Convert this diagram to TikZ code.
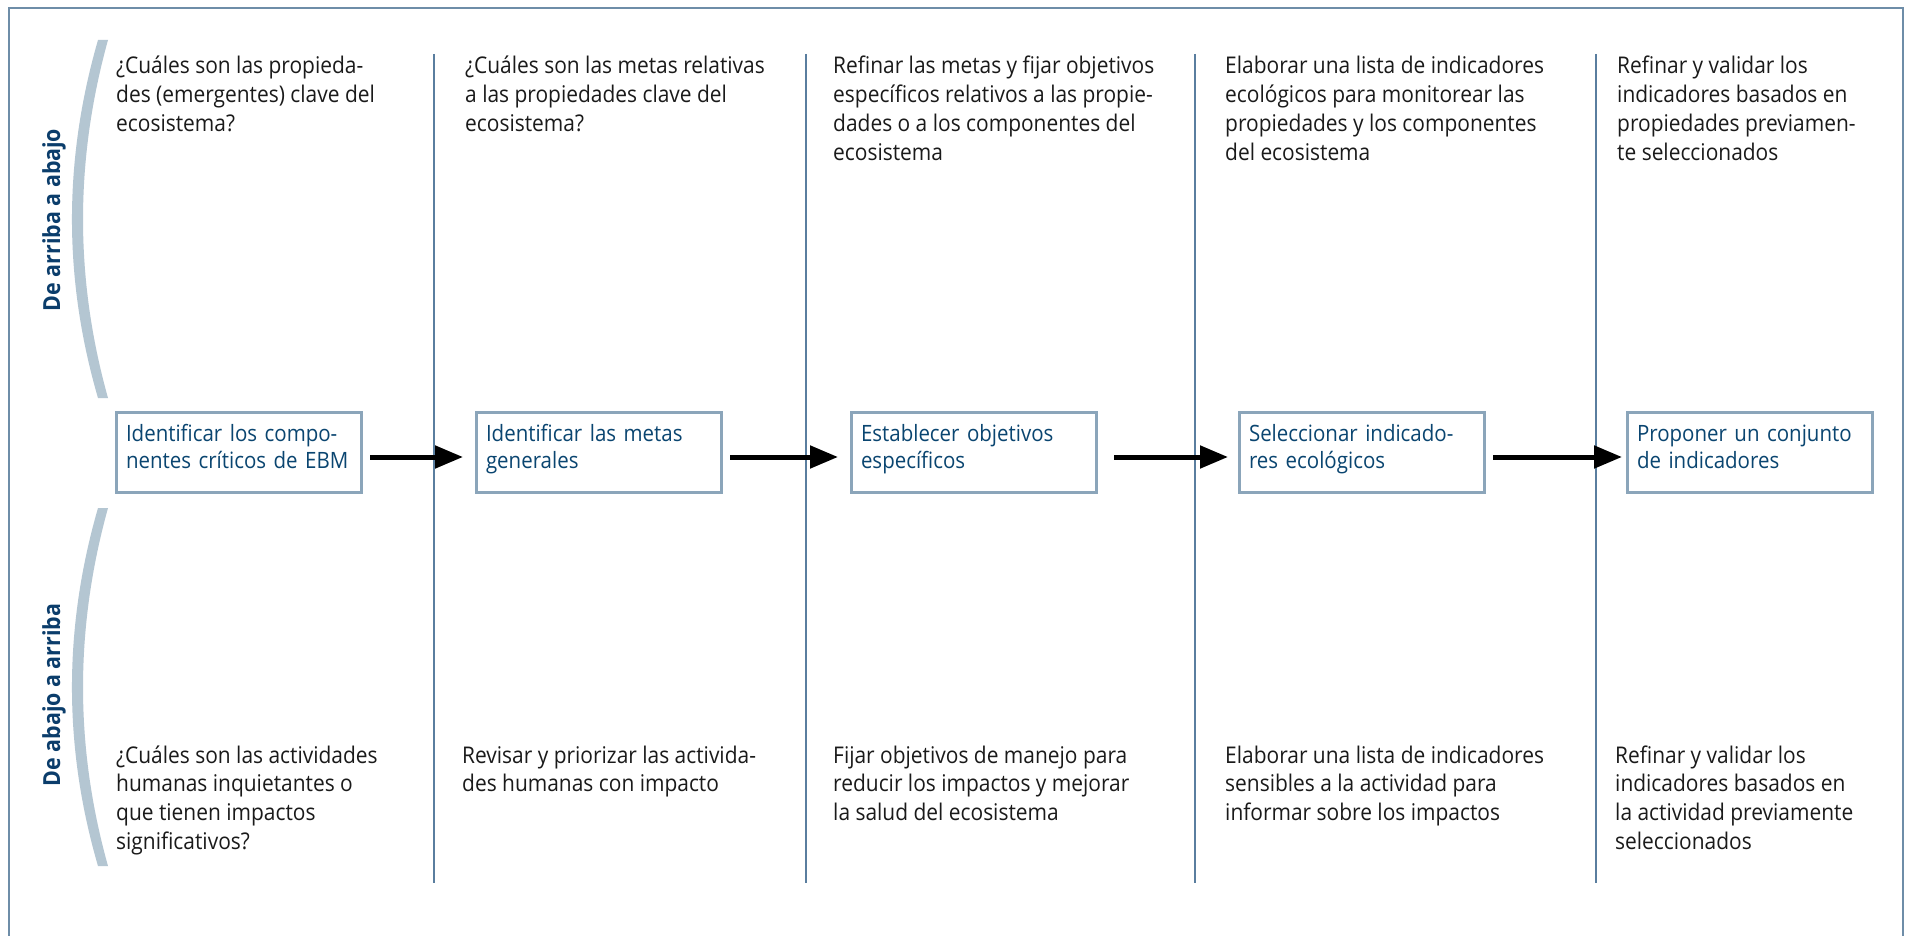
\documentclass[tikz,border=0pt]{standalone}
\usepackage{fontspec}
\setmainfont{Open Sans}[FakeStretch=0.91]
\usetikzlibrary{arrows.meta}
\definecolor{boxtext}{HTML}{0A4570}
\definecolor{labeltext}{HTML}{0B3D6B}
\definecolor{boxline}{HTML}{8BA5BA}
\definecolor{sepline}{HTML}{5A7E9F}
\definecolor{frameline}{HTML}{6E8DA8}
\definecolor{bracketc}{HTML}{B4C6D2}
\definecolor{bodytext}{HTML}{1A1A1A}
\newcommand{\ltext}[1]{\begin{tabular}[t]{@{}l@{}}#1\end{tabular}}
\newcommand{\boxstrut}{\rule[-14.3pt]{0pt}{1pt}}
\tikzset{
  bodytxt/.style={anchor=base west, inner sep=0pt, text=bodytext,
    font=\fontsize{23}{28.7}\selectfont},
  stepbox/.style={draw=boxline, line width=3pt, fill=white, anchor=north west,
    minimum width=245pt, minimum height=80pt, text width=226pt, inner xsep=9.5pt,
    inner ysep=0pt, align=left, text=boxtext, font=\fontsize{22.5}{27.5}\selectfont},
  sidelabel/.style={rotate=90, anchor=base, inner sep=0pt, text=labeltext,
    font=\bfseries\fontsize{23.5}{28}\selectfont},
  sepstyle/.style={draw=sepline, line width=2.5pt},
  bracketstyle/.style={fill=bracketc},
  flowarrow/.style={draw=black, line width=5pt, -{Triangle[length=28pt,width=22pt]}},
}
\begin{document}
\begin{tikzpicture}[x=1pt,y=-1pt]
\useasboundingbox (0,0) rectangle (1905,936);
\fill[white] (0,0) rectangle (1905,936);
% frame
\draw[frameline, line width=2pt] (9,937) -- (9,8) -- (1903,8) -- (1903,937);
% separators
\foreach \sx in {434,806,1195,1596} {
  \draw[sepstyle] (\sx,54) -- (\sx,883);
}
% brackets
\fill[bracketstyle] (98,40) .. controls (63.3,160) and (63.3,279) .. (98,398)
  -- (108,398) .. controls (74.7,279) and (74.7,160) .. (108,40) -- cycle;
\fill[bracketstyle] (98,508) .. controls (63.3,628) and (63.3,747) .. (98,866)
  -- (108,866) .. controls (74.7,747) and (74.7,628) .. (108,508) -- cycle;
% side labels
\node[sidelabel] (topdown) at (60,220) {De arriba a abajo};
\node[sidelabel] (bottomup) at (60,695) {De abajo a arriba};
% top texts
\node[bodytxt] (t1) at (116,74) {\ltext{¿Cuáles son las propieda-\\des (emergentes) clave del\\ecosistema?}};
\node[bodytxt] (t2) at (465,74) {\ltext{¿Cuáles son las metas relativas\\a las propiedades clave del\\ecosistema?}};
\node[bodytxt] (t3) at (833,74) {\ltext{Refinar las metas y fijar objetivos\\específicos relativos a las propie-\\dades o a los componentes del\\ecosistema}};
\node[bodytxt] (t4) at (1225,74) {\ltext{Elaborar una lista de indicadores\\ecológicos para monitorear las\\propiedades y los componentes\\del ecosistema}};
\node[bodytxt] (t5) at (1617,74) {\ltext{Refinar y validar los\\indicadores basados en\\propiedades previamen-\\te seleccionados}};
% boxes
\node[stepbox] (b1) at (115,411) {\ltext{Identificar los compo-\\nentes críticos de EBM\boxstrut}};
\node[stepbox] (b2) at (475,411) {\ltext{Identificar las metas\\generales\boxstrut}};
\node[stepbox] (b3) at (850,411) {\ltext{Establecer objetivos\\específicos\boxstrut}};
\node[stepbox] (b4) at (1238,411) {\ltext{Seleccionar indicado-\\res ecológicos\boxstrut}};
\node[stepbox] (b5) at (1626,411) {\ltext{Proponer un conjunto\\de indicadores\boxstrut}};
% arrows
\draw[flowarrow] ([shift={(7,4.5)}]b1.east) -- ([shift={(-12,4.5)}]b2.west);
\draw[flowarrow] ([shift={(7,4.5)}]b2.east) -- ([shift={(-12,4.5)}]b3.west);
\draw[flowarrow] ([shift={(16,4.5)}]b3.east) -- ([shift={(-10,4.5)}]b4.west);
\draw[flowarrow] ([shift={(7,4.5)}]b4.east) -- ([shift={(-4,4.5)}]b5.west);
% bottom texts
\node[bodytxt] (u1) at (116,763) {\ltext{¿Cuáles son las actividades\\humanas inquietantes o\\que tienen impactos\\significativos?}};
\node[bodytxt] (u2) at (462,763) {\ltext{Revisar y priorizar las activida-\\des humanas con impacto}};
\node[bodytxt] (u3) at (833,763) {\ltext{Fijar objetivos de manejo para\\reducir los impactos y mejorar\\la salud del ecosistema}};
\node[bodytxt] (u4) at (1225,763) {\ltext{Elaborar una lista de indicadores\\sensibles a la actividad para\\informar sobre los impactos}};
\node[bodytxt] (u5) at (1615,763) {\ltext{Refinar y validar los\\indicadores basados en\\la actividad previamente\\seleccionados}};
\end{tikzpicture}
\end{document}
